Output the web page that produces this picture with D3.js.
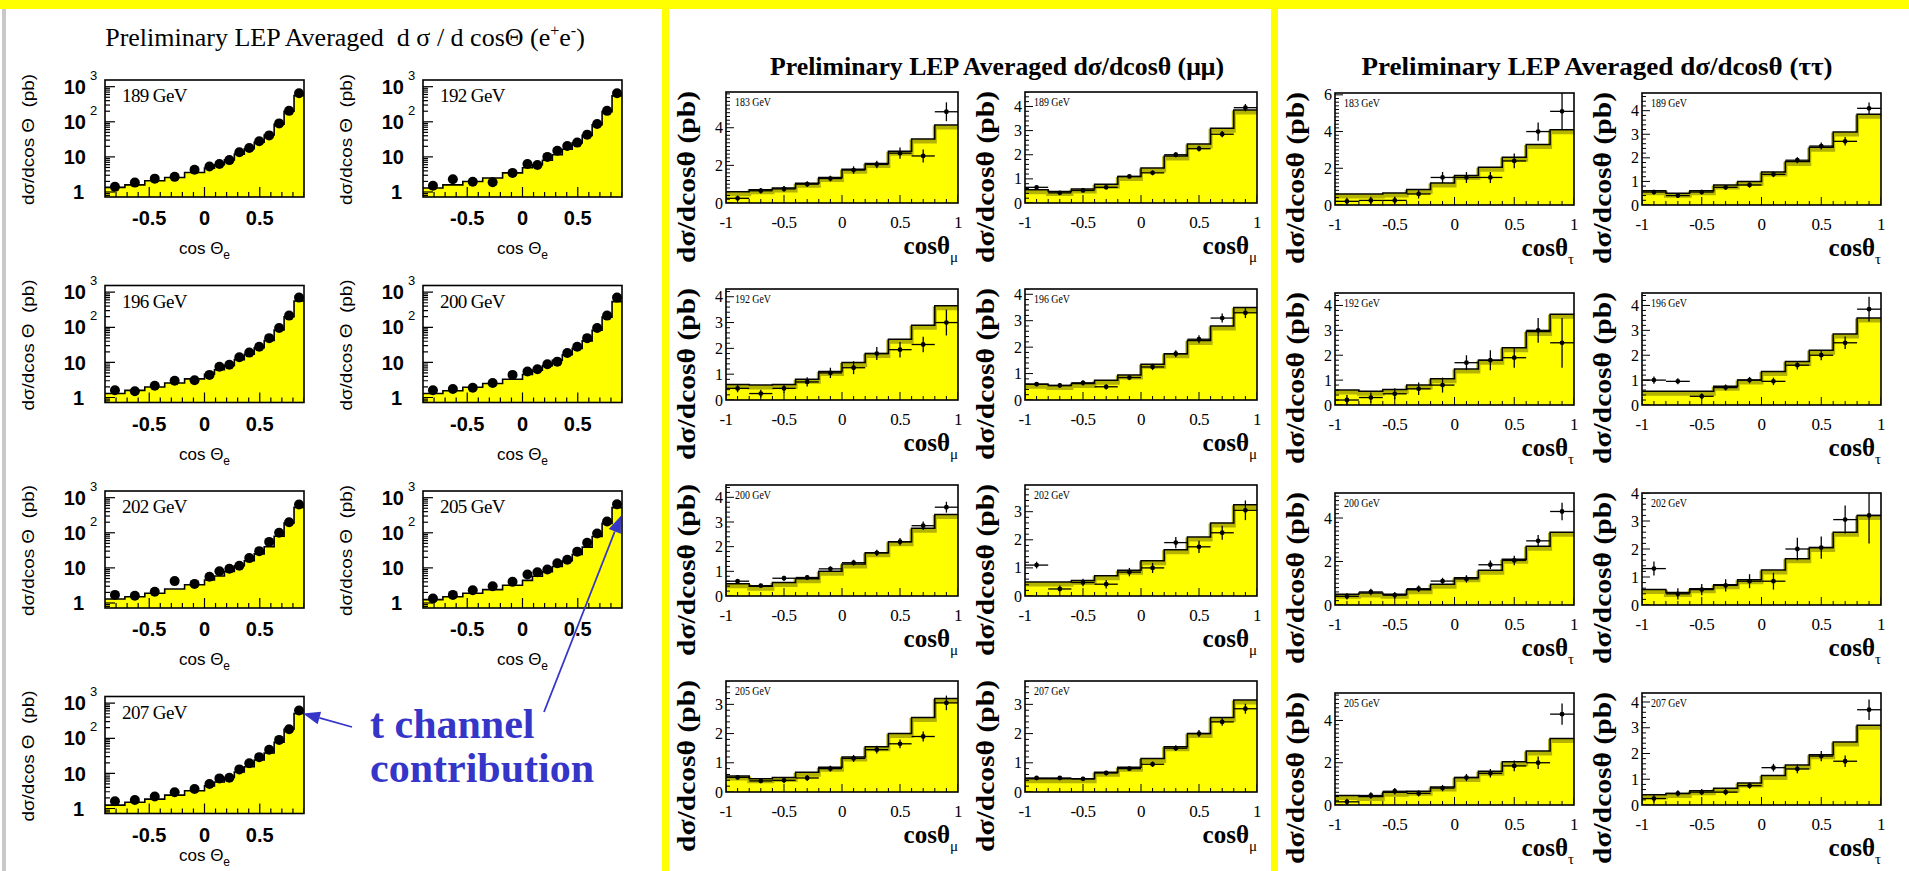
<!DOCTYPE html>
<html>
<head>
<meta charset="utf-8">
<title>LEP averaged differential cross-sections</title>
<script src="https://cdn.jsdelivr.net/npm/d3@7/dist/d3.min.js"></script>
<style>
  html, body { margin: 0; padding: 0; background: #fff; }
  svg { display: block; }
  text { white-space: pre; }
</style>
</head>
<body>
<svg id="chart" width="1909" height="871"></svg>
<script>
// ---------- e+e- -> e+e- : 15 bins in cos(theta_e), values in pb ----------
const eeEdges = [-0.90, -0.72, -0.54, -0.36, -0.18, 0.00, 0.09, 0.18, 0.27, 0.36, 0.45, 0.54, 0.63, 0.72, 0.81, 0.90];
const eeEnergies = ["189 GeV", "192 GeV", "196 GeV", "200 GeV", "202 GeV", "205 GeV", "207 GeV"];
const eeData189 = [1.4, 1.85, 2.4, 2.7, 4.3, 5.3, 6.3, 8.1, 13.5, 18, 28, 41, 90, 205, 650];
const eeSM189   = [1.35, 1.6, 2.1, 2.6, 3.6, 4.8, 6.0, 8.2, 12.0, 17, 26, 42, 85, 200, 560];
const eeData192 = [1.5, 2.3, 1.95, 1.9, 3.5, 6.3, 5.9, 10, 15, 20.5, 25.5, 43, 86, 205, 650];
const eeSM192   = [1.3, 1.6, 2.0, 2.5, 3.5, 4.9, 6.0, 8.0, 11.5, 16.5, 25, 41, 82, 195, 550];
const eeData196 = [1.6, 1.5, 2.15, 3.0, 3.1, 4.4, 7.5, 8.6, 14, 19, 28, 49, 95, 215, 700];
const eeSM196   = [1.3, 1.6, 2.0, 2.6, 3.4, 4.6, 6.2, 8.2, 12, 17, 26, 42, 84, 200, 560];
const eeData200 = [1.6, 1.75, 1.9, 2.6, 4.4, 5.5, 6.4, 8.9, 10.5, 18.5, 28, 49, 95, 215, 700];
const eeSM200   = [1.3, 1.55, 1.95, 2.5, 3.3, 4.5, 6.0, 8.0, 11.5, 16.5, 25, 41, 82, 195, 540];
const eeData202 = [1.7, 1.6, 2.1, 4.2, 3.5, 5.6, 8.0, 9.5, 11.5, 19, 30, 55, 100, 200, 640];
const eeSM202   = [1.3, 1.5, 1.9, 2.5, 3.3, 4.5, 5.9, 7.9, 11.5, 16, 25, 40, 80, 190, 530];
const eeData205 = [1.35, 1.7, 2.3, 3.0, 4.0, 6.5, 7.5, 9.0, 13.5, 17, 29, 52, 95, 210, 650];
const eeSM205   = [1.25, 1.5, 1.9, 2.4, 3.2, 4.4, 5.8, 7.8, 11, 16, 24, 39, 78, 185, 520];
const eeData207 = [1.6, 1.75, 2.2, 2.9, 3.6, 5.0, 7.2, 7.5, 13, 19.5, 29, 47, 90, 180, 620];
const eeSM207   = [1.25, 1.5, 1.85, 2.4, 3.2, 4.4, 5.7, 7.6, 11, 15.5, 24, 38, 77, 180, 510];
const eeXTicks = [-0.5, 0, 0.5];
const eeYTicks = [1, 10, 100, 1000];

// ---------- mu+mu- and tau+tau- : 10 bins in cos(theta), values in pb ----------
const llEdges = [-1.0, -0.8, -0.6, -0.4, -0.2, 0.0, 0.2, 0.4, 0.6, 0.8, 1.0];
const llEnergies = ["183 GeV", "189 GeV", "192 GeV", "196 GeV", "200 GeV", "202 GeV", "205 GeV", "207 GeV"];
const llXTicks = [-1, -0.5, 0, 0.5, 1];

const muSM183   = [0.6, 0.7, 0.8, 1.05, 1.35, 1.8, 2.1, 2.75, 3.4, 4.15];
const muData183 = [0.25, 0.65, 0.75, 1.0, 1.3, 1.75, 2.05, 2.65, 2.5, 4.85];
const muErr183  = [0.15, 0.15, 0.15, 0.15, 0.15, 0.2, 0.2, 0.3, 0.35, 0.5];
const muSM189   = [0.55, 0.48, 0.58, 0.78, 1.1, 1.45, 1.95, 2.45, 3.1, 3.85];
const muData189 = [0.65, 0.42, 0.52, 0.65, 1.1, 1.25, 2.0, 2.25, 2.85, 3.95];
const muErr189  = [0.07, 0.07, 0.07, 0.08, 0.08, 0.1, 0.1, 0.12, 0.13, 0.15];
const muSM192   = [0.6, 0.58, 0.6, 0.8, 1.1, 1.45, 1.8, 2.35, 2.9, 3.65];
const muData192 = [0.45, 0.25, 0.45, 0.7, 1.05, 1.25, 1.8, 1.95, 2.15, 3.0];
const muErr192  = [0.15, 0.15, 0.17, 0.18, 0.2, 0.25, 0.25, 0.3, 0.3, 0.5];
const muSM196   = [0.6, 0.55, 0.62, 0.75, 0.95, 1.35, 1.75, 2.25, 2.8, 3.5];
const muData196 = [0.6, 0.55, 0.65, 0.5, 0.85, 1.25, 1.75, 2.3, 3.1, 3.3];
const muErr196  = [0.08, 0.08, 0.1, 0.1, 0.1, 0.12, 0.13, 0.15, 0.17, 0.2];
const muSM200   = [0.5, 0.4, 0.55, 0.7, 1.0, 1.3, 1.75, 2.2, 2.75, 3.3];
const muData200 = [0.6, 0.42, 0.72, 0.75, 1.1, 1.35, 1.75, 2.2, 2.85, 3.6];
const muErr200  = [0.08, 0.08, 0.1, 0.1, 0.1, 0.12, 0.13, 0.15, 0.17, 0.22];
const muSM202   = [0.5, 0.5, 0.55, 0.72, 0.92, 1.25, 1.65, 2.1, 2.6, 3.25];
const muData202 = [1.1, 0.25, 0.48, 0.42, 0.85, 1.0, 1.9, 1.75, 2.25, 3.05];
const muErr202  = [0.12, 0.12, 0.13, 0.15, 0.15, 0.18, 0.2, 0.22, 0.25, 0.35];
const muSM205   = [0.55, 0.45, 0.5, 0.68, 0.85, 1.2, 1.55, 2.0, 2.55, 3.2];
const muData205 = [0.5, 0.38, 0.4, 0.48, 0.8, 1.15, 1.45, 1.65, 1.9, 3.05];
const muErr205  = [0.08, 0.08, 0.1, 0.1, 0.1, 0.12, 0.13, 0.15, 0.17, 0.25];
const muSM207   = [0.45, 0.45, 0.45, 0.68, 0.85, 1.15, 1.55, 2.0, 2.55, 3.15];
const muData207 = [0.48, 0.48, 0.45, 0.65, 0.8, 0.95, 1.5, 2.0, 2.4, 2.85];
const muErr207  = [0.06, 0.06, 0.07, 0.08, 0.08, 0.09, 0.1, 0.12, 0.13, 0.17];
const muYMax  = [5.9, 4.6, 4.3, 4.2, 4.5, 3.95, 3.8, 3.8];
const muYStep = [2, 1, 1, 1, 1, 1, 1, 1];

const tauSM183   = [0.6, 0.6, 0.65, 0.85, 1.2, 1.6, 2.05, 2.6, 3.3, 4.1];
const tauData183 = [0.2, 0.25, 0.25, 0.6, 1.5, 1.5, 1.5, 2.4, 4.0, 5.1];
const tauErr183  = [0.2, 0.2, 0.2, 0.25, 0.3, 0.3, 0.3, 0.4, 0.5, 1.0];
const tauSM189   = [0.6, 0.5, 0.6, 0.85, 1.0, 1.4, 1.85, 2.45, 3.1, 3.85];
const tauData189 = [0.55, 0.4, 0.55, 0.75, 0.85, 1.3, 1.9, 2.5, 2.7, 4.1];
const tauErr189  = [0.1, 0.1, 0.1, 0.1, 0.12, 0.12, 0.13, 0.15, 0.18, 0.25];
const tauSM192   = [0.6, 0.55, 0.62, 0.8, 1.05, 1.45, 1.8, 2.3, 2.95, 3.65];
const tauData192 = [0.2, 0.3, 0.45, 0.65, 0.8, 1.7, 1.8, 1.9, 3.0, 2.5];
const tauErr192  = [0.2, 0.2, 0.22, 0.25, 0.3, 0.3, 0.4, 0.4, 0.5, 1.0];
const tauSM196   = [0.55, 0.55, 0.55, 0.75, 1.0, 1.35, 1.75, 2.2, 2.85, 3.5];
const tauData196 = [1.0, 0.95, 0.35, 0.7, 1.0, 0.95, 1.6, 2.0, 2.5, 3.85];
const tauErr196  = [0.15, 0.12, 0.12, 0.12, 0.13, 0.15, 0.17, 0.2, 0.25, 0.5];
const tauSM200   = [0.5, 0.55, 0.5, 0.7, 0.95, 1.25, 1.6, 2.1, 2.7, 3.35];
const tauData200 = [0.4, 0.6, 0.45, 0.75, 1.1, 1.2, 1.85, 2.05, 2.95, 4.3];
const tauErr200  = [0.15, 0.15, 0.15, 0.15, 0.15, 0.17, 0.2, 0.22, 0.27, 0.4];
const tauSM202   = [0.55, 0.45, 0.58, 0.72, 0.9, 1.25, 1.65, 2.05, 2.6, 3.2];
const tauData202 = [1.3, 0.4, 0.55, 0.7, 0.85, 0.85, 2.0, 2.05, 3.05, 3.2];
const tauErr202  = [0.25, 0.2, 0.2, 0.22, 0.25, 0.3, 0.4, 0.4, 0.5, 1.0];
const tauSM205   = [0.45, 0.4, 0.6, 0.65, 0.85, 1.3, 1.6, 2.05, 2.55, 3.15];
const tauData205 = [0.15, 0.45, 0.65, 0.55, 0.8, 1.3, 1.5, 1.85, 2.0, 4.3];
const tauErr205  = [0.15, 0.15, 0.15, 0.15, 0.15, 0.17, 0.2, 0.25, 0.3, 0.5];
const tauSM207   = [0.4, 0.45, 0.55, 0.65, 0.85, 1.15, 1.55, 1.95, 2.45, 3.1];
const tauData207 = [0.25, 0.45, 0.5, 0.5, 0.75, 1.45, 1.4, 1.9, 1.7, 3.7];
const tauErr207  = [0.15, 0.12, 0.12, 0.12, 0.12, 0.15, 0.17, 0.2, 0.22, 0.4];
const tauYMax  = [6.1, 4.75, 4.5, 4.5, 5.15, 4.0, 5.3, 4.35];
const tauYStep = [2, 1, 1, 1, 2, 1, 2, 1];

// ---------- grouping ----------
const eeData = [eeData189, eeData192, eeData196, eeData200, eeData202, eeData205, eeData207];
const eeSM   = [eeSM189, eeSM192, eeSM196, eeSM200, eeSM202, eeSM205, eeSM207];
const muSM   = [muSM183, muSM189, muSM192, muSM196, muSM200, muSM202, muSM205, muSM207];
const muData = [muData183, muData189, muData192, muData196, muData200, muData202, muData205, muData207];
const muErr  = [muErr183, muErr189, muErr192, muErr196, muErr200, muErr202, muErr205, muErr207];
const tauSM   = [tauSM183, tauSM189, tauSM192, tauSM196, tauSM200, tauSM202, tauSM205, tauSM207];
const tauData = [tauData183, tauData189, tauData192, tauData196, tauData200, tauData202, tauData205, tauData207];
const tauErr  = [tauErr183, tauErr189, tauErr192, tauErr196, tauErr200, tauErr202, tauErr205, tauErr207];

// ---------- page ----------
const SERIF = "'Liberation Serif', 'Times New Roman', 'DejaVu Serif', serif";
const SANS = "'Liberation Sans', Arial, Helvetica, sans-serif";
const YELLOW = "#ffff00";
const BLUE = "#3535c8";

const svg = d3.select("#chart");
svg.append("rect").attr("width", 1909).attr("height", 871).attr("fill", "#fff");

let clipCount = 0;
function addClip(g, w, h) {
  const id = "pc" + (clipCount++);
  g.append("clipPath").attr("id", id).append("rect").attr("width", w).attr("height", h);
  return g.append("g").attr("clip-path", `url(#${id})`);
}

// ---------- e+e- panels (log scale) ----------
const EE = { cols: [105, 423], rows: [80, 285.5, 491, 696.5], w: 199, h: 117,
             xMin: -0.9, xMax: 0.9, yMin: 0.72, yMax: 1550 };

function eePanel(i) {
  const x0 = EE.cols[i % 2], y0 = EE.rows[Math.floor(i / 2)];
  const w = EE.w, h = EE.h;
  const g = svg.append("g").attr("transform", `translate(${x0},${y0})`);
  const x = d3.scaleLinear().domain([EE.xMin, EE.xMax]).range([0, w]);
  const y = d3.scaleLog().domain([EE.yMin, EE.yMax]).range([h, 0]);
  const body = addClip(g, w, h);
  const sm = eeSM[i], data = eeData[i];
  const steps = eeEdges.map((e, k) => [e, sm[Math.min(k, sm.length - 1)]]);
  body.append("path").datum(steps)
    .attr("d", d3.area().x(d => x(d[0])).y0(h).y1(d => y(d[1])).curve(d3.curveStepAfter))
    .attr("fill", YELLOW);
  body.append("path").datum(steps)
    .attr("d", d3.line().x(d => x(d[0])).y(d => y(d[1])).curve(d3.curveStepAfter))
    .attr("fill", "none").attr("stroke", "#000").attr("stroke-width", 1.6);

  // x ticks every 0.1, larger at labelled values
  const xt = d3.range(-9, 10).map(k => k / 10);
  body.selectAll(null).data(xt).enter().append("line")
    .attr("x1", d => x(d)).attr("x2", d => x(d))
    .attr("y1", h).attr("y2", d => h - (Math.abs(d * 2 - Math.round(d * 2)) < 1e-6 ? 10 : 5))
    .attr("stroke", "#000").attr("stroke-width", 1.2);
  // log ticks on the y axis
  const yt = [];
  for (let p = -1; p <= 3; p++) for (let k = 1; k <= 9; k++) {
    const v = k * Math.pow(10, p);
    if (v >= EE.yMin && v <= EE.yMax) yt.push({ v, major: k === 1 });
  }
  body.selectAll(null).data(yt).enter().append("line")
    .attr("x1", 0).attr("x2", d => d.major ? 10 : 5)
    .attr("y1", d => y(d.v)).attr("y2", d => y(d.v))
    .attr("stroke", "#000").attr("stroke-width", 1.2);

  // measured points
  const centers = data.map((d, k) => [(eeEdges[k] + eeEdges[k + 1]) / 2, d]);
  body.selectAll(null).data(centers).enter().append("circle")
    .attr("cx", d => x(d[0])).attr("cy", d => y(d[1])).attr("r", 5).attr("fill", "#000");

  g.append("rect").attr("width", w).attr("height", h)
    .attr("fill", "none").attr("stroke", "#000").attr("stroke-width", 1.6);

  // energy label
  g.append("text").attr("x", 17).attr("y", 22).attr("font-family", SERIF).attr("font-size", 19)
    .attr("letter-spacing", -0.6).text(eeEnergies[i]);

  // y tick labels 1, 10, 10^2, 10^3
  eeYTicks.forEach(v => {
    const e = Math.round(Math.log10(v));
    const t = g.append("text").attr("font-family", SANS).attr("font-weight", "bold")
      .attr("font-size", 20).attr("y", y(v)).attr("dy", "0.36em").attr("text-anchor", "end");
    if (e === 0) { t.attr("x", -21).text("1"); }
    else if (e === 1) { t.attr("x", -19).text("10"); }
    else {
      t.attr("x", -19).text("10");
      g.append("text").attr("font-family", SANS).attr("font-size", 13)
        .attr("x", -15).attr("y", y(v) - 7).text(String(e));
    }
  });
  // x tick labels
  g.selectAll(null).data(eeXTicks).enter().append("text")
    .attr("x", d => x(d)).attr("y", h + 28).attr("text-anchor", "middle")
    .attr("font-family", SANS).attr("font-weight", "bold").attr("font-size", 20)
    .text(d => String(d));
  // axis titles (kept inside the page on the lowest row)
  const titleY = Math.min(h + 57, 861 - y0);
  const xt2 = g.append("text").attr("x", w / 2).attr("y", titleY).attr("text-anchor", "middle")
    .attr("font-family", SANS).attr("font-size", 17);
  xt2.append("tspan").text("cos Θ");
  xt2.append("tspan").attr("font-size", 12).attr("dy", 5).text("e");
  g.append("text").attr("transform", `translate(-71,-6) rotate(-90)`)
    .attr("text-anchor", "end").attr("font-family", SANS).attr("font-size", 17)
    .attr("textLength", 131).attr("lengthAdjust", "spacingAndGlyphs")
    .text("dσ/dcos Θ  (pb)");

  return { x: (v) => x0 + x(v), y: (v) => y0 + y(v) };
}

// ---------- mu mu / tau tau panels (linear scale) ----------
const MU  = { cols: [726, 1025], rows: [92, 289, 485, 681], w: 232, h: 111, sub: "μ" };
const TAU = { cols: [1335, 1642], rows: [93, 293, 493, 693], w: 239, h: 112, sub: "τ" };

function llPanel(L, i, sm, data, err, ymax, ystep) {
  const x0 = L.cols[i % 2], y0 = L.rows[Math.floor(i / 2)];
  const w = L.w, h = L.h;
  const g = svg.append("g").attr("transform", `translate(${x0},${y0})`);
  const x = d3.scaleLinear().domain([llEdges[0], llEdges[llEdges.length - 1]]).range([0, w]);
  const y = d3.scaleLinear().domain([0, ymax]).range([h, 0]);
  const body = addClip(g, w, h);
  const steps = llEdges.map((e, k) => [e, sm[Math.min(k, sm.length - 1)]]);
  const stepLine = d3.line().x(d => x(d[0])).y(d => y(d[1])).curve(d3.curveStepAfter);
  body.append("path").datum(steps)
    .attr("d", d3.area().x(d => x(d[0])).y0(h).y1(d => y(d[1])).curve(d3.curveStepAfter))
    .attr("fill", YELLOW);
  // prediction uncertainty band
  body.append("path").datum(steps).attr("d", stepLine).attr("transform", "translate(0,2.5)")
    .attr("fill", "none").attr("stroke", "#b3b300").attr("stroke-width", 4);
  body.append("path").datum(steps).attr("d", stepLine)
    .attr("fill", "none").attr("stroke", "#000").attr("stroke-width", 1.5);

  // ticks
  const xt = d3.range(-10, 11).map(k => k / 10);
  body.selectAll(null).data(xt).enter().append("line")
    .attr("x1", d => x(d)).attr("x2", d => x(d))
    .attr("y1", h).attr("y2", d => h - (Math.abs(d * 2 - Math.round(d * 2)) < 1e-6 ? 8 : 4))
    .attr("stroke", "#000").attr("stroke-width", 1);
  const yt = d3.range(0, Math.floor(ymax / 0.2 + 1e-6) + 1).map(k => k * 0.2);
  body.selectAll(null).data(yt).enter().append("line")
    .attr("x1", 0).attr("x2", d => Math.abs(d / ystep - Math.round(d / ystep)) < 1e-6 ? 8 : 4)
    .attr("y1", d => y(d)).attr("y2", d => y(d))
    .attr("stroke", "#000").attr("stroke-width", 1);

  // measurements with errors
  const pts = data.map((d, k) => ({ lo: llEdges[k], hi: llEdges[k + 1], c: (llEdges[k] + llEdges[k + 1]) / 2, v: d, e: err[k] }));
  const pg = body.append("g").attr("stroke", "#000").attr("stroke-width", 1.3);
  pg.selectAll(null).data(pts).enter().append("line")
    .attr("x1", d => x(d.lo)).attr("x2", d => x(d.hi)).attr("y1", d => y(d.v)).attr("y2", d => y(d.v));
  pg.selectAll(null).data(pts).enter().append("line")
    .attr("x1", d => x(d.c)).attr("x2", d => x(d.c)).attr("y1", d => y(d.v - d.e)).attr("y2", d => y(d.v + d.e));
  body.selectAll(null).data(pts).enter().append("circle")
    .attr("cx", d => x(d.c)).attr("cy", d => y(d.v)).attr("r", 2.4).attr("fill", "#000");

  g.append("rect").attr("width", w).attr("height", h)
    .attr("fill", "none").attr("stroke", "#000").attr("stroke-width", 1.6);

  g.append("text").attr("x", 9).attr("y", 14).attr("font-family", SERIF).attr("font-size", 13)
    .attr("textLength", 36).attr("lengthAdjust", "spacingAndGlyphs").text(llEnergies[i]);

  // y tick labels
  const yl = d3.range(0, Math.floor(ymax / ystep + 1e-6) + 1).map(k => k * ystep);
  g.selectAll(null).data(yl).enter().append("text")
    .attr("x", -3).attr("y", d => y(d)).attr("dy", "0.35em").attr("text-anchor", "end")
    .attr("font-family", SERIF).attr("font-size", 16).text(d => String(d));
  // x tick labels
  g.selectAll(null).data(llXTicks).enter().append("text")
    .attr("x", d => x(d)).attr("y", h + 25).attr("text-anchor", "middle")
    .attr("font-family", SERIF).attr("font-size", 17).attr("letter-spacing", -0.5)
    .text(d => String(d));
  // axis titles
  const xtt = g.append("text").attr("x", w).attr("y", h + 51).attr("text-anchor", "end")
    .attr("font-family", SERIF).attr("font-weight", "bold").attr("font-size", 25);
  xtt.append("tspan").text("cosθ");
  xtt.append("tspan").attr("font-size", 15).attr("font-weight", "normal").attr("dy", 8).text(L.sub);
  g.append("text").attr("transform", `translate(-31,-1) rotate(-90)`)
    .attr("text-anchor", "end").attr("font-family", SERIF).attr("font-weight", "bold")
    .attr("font-size", 26).attr("textLength", 172).attr("lengthAdjust", "spacingAndGlyphs")
    .text("dσ/dcosθ (pb)");
}

// ---------- frame decorations ----------
svg.append("rect").attr("x", 2).attr("y", 9).attr("width", 4).attr("height", 862).attr("fill", "#c8c8c8");
svg.append("rect").attr("x", 0).attr("y", 0).attr("width", 1909).attr("height", 9).attr("fill", YELLOW);
svg.append("rect").attr("x", 662).attr("y", 0).attr("width", 7).attr("height", 871).attr("fill", YELLOW);
svg.append("rect").attr("x", 1271).attr("y", 0).attr("width", 7).attr("height", 871).attr("fill", YELLOW);

// ---------- titles ----------
const t1 = svg.append("text").attr("x", 345).attr("y", 46).attr("text-anchor", "middle")
  .attr("font-family", SERIF).attr("font-size", 26);
t1.append("tspan").text("Preliminary LEP Averaged  d σ / d cosΘ (e");
t1.append("tspan").attr("font-size", 16).attr("dy", -10).text("+");
t1.append("tspan").attr("dy", 10).text("e");
t1.append("tspan").attr("font-size", 16).attr("dy", -10).text("-");
t1.append("tspan").attr("dy", 10).text(")");

svg.append("text").attr("x", 997).attr("y", 75).attr("text-anchor", "middle")
  .attr("font-family", SERIF).attr("font-weight", "bold").attr("font-size", 25)
  .attr("textLength", 454).attr("lengthAdjust", "spacingAndGlyphs")
  .text("Preliminary LEP Averaged dσ/dcosθ (μμ)");
svg.append("text").attr("x", 1597).attr("y", 75).attr("text-anchor", "middle")
  .attr("font-family", SERIF).attr("font-weight", "bold").attr("font-size", 25)
  .attr("textLength", 471).attr("lengthAdjust", "spacingAndGlyphs")
  .text("Preliminary LEP Averaged dσ/dcosθ (ττ)");

// ---------- panels ----------
const eeScales = eeEnergies.map((_, i) => eePanel(i));
llEnergies.forEach((_, i) => llPanel(MU, i, muSM[i], muData[i], muErr[i], muYMax[i], muYStep[i]));
llEnergies.forEach((_, i) => llPanel(TAU, i, tauSM[i], tauData[i], tauErr[i], tauYMax[i], tauYStep[i]));

// ---------- annotation: t channel contribution ----------
const ann = svg.append("g").attr("fill", BLUE).attr("font-family", SERIF)
  .attr("font-weight", "bold").attr("font-size", 42);
ann.append("text").attr("x", 370).attr("y", 738).text("t channel");
ann.append("text").attr("x", 370).attr("y", 782).text("contribution");

function arrow(x1, y1, x2, y2) {
  const a = Math.atan2(y2 - y1, x2 - x1), L = 17, Wd = 6.5;
  const bx = x2 - L * Math.cos(a), by = y2 - L * Math.sin(a);
  svg.append("line").attr("x1", x1).attr("y1", y1).attr("x2", bx).attr("y2", by)
    .attr("stroke", BLUE).attr("stroke-width", 1.8);
  const px = -Math.sin(a) * Wd, py = Math.cos(a) * Wd;
  svg.append("path").attr("fill", BLUE)
    .attr("d", `M${x2},${y2}L${bx + px},${by + py}L${bx - px},${by - py}Z`);
}
const last = eeEdges.length - 1;
const s207 = eeScales[6], s205 = eeScales[5];
arrow(352, 727, s207.x(eeEdges[last]) - 1, s207.y(eeSM207[eeSM207.length - 1]));
arrow(544, 712, s205.x(eeEdges[last]) - 1, s205.y(eeSM205[eeSM205.length - 1]) + 8);
</script>
</body>
</html>
